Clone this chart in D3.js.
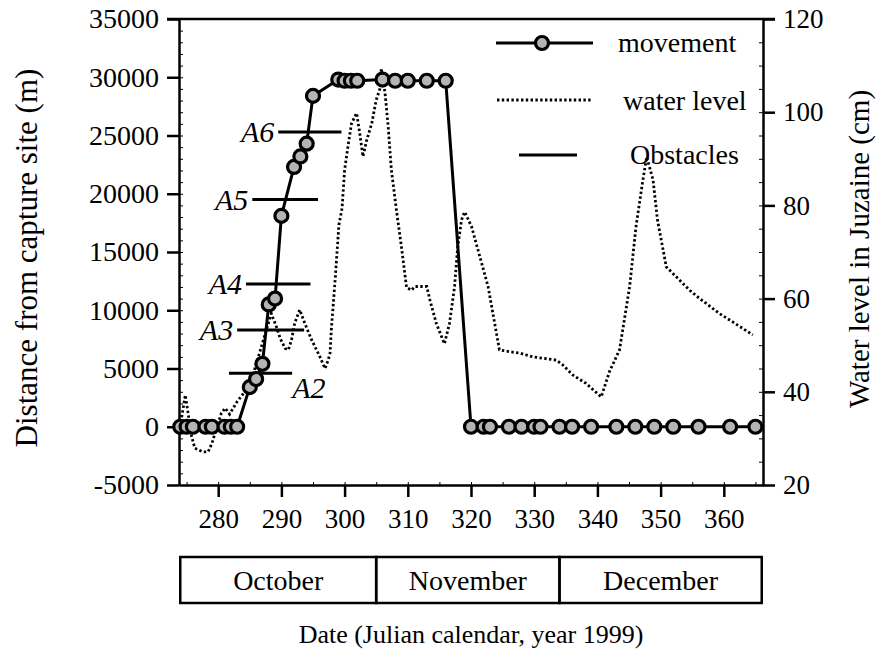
<!DOCTYPE html>
<html>
<head>
<meta charset="utf-8">
<script src="https://cdn.jsdelivr.net/npm/d3@7"></script>
<style>
  body { margin: 0; background: #fff; }
  svg text { font-family: "Liberation Serif", "Times New Roman", serif; fill: #000; }
</style>
</head>
<body>
<div id="chart"></div>
<script>
// movement of the fish (distance from capture site, m) by julian day
let moveDays = [274, 275, 276, 278, 279, 281, 282, 283, 285, 286, 287, 288, 289, 290,
  292, 293, 294, 295, 299, 300, 301, 302, 306, 308, 310, 313, 316,
  320, 322, 323, 326, 328, 330, 331, 334, 336, 339, 343, 346, 349, 352, 356, 361, 365];
let moveDist = [0, 0, 0, 0, 0, 0, 0, 0, 3400, 4100, 5400, 10500, 11000, 18100,
  22300, 23200, 24300, 28400, 29800, 29700, 29700, 29700, 29800, 29700, 29700, 29700, 29700,
  0, 0, 0, 0, 0, 0, 0, 0, 0, 0, 0, 0, 0, 0, 0, 0, 0];

// water level in Juzaine (cm)
let waterDays = [274.1, 274.8, 275.8, 276.3, 277.6, 278.4, 279.0, 280.5, 281.1, 281.8, 283.0, 283.8, 285.1,
  288.4, 289.2, 289.8, 290.6, 291.1, 291.6, 292.1, 292.9, 293.7, 294.8, 296.1, 296.9, 297.4, 297.7,
  297.9, 298.5, 299.1, 299.6, 300.0, 300.6, 301.1, 301.9, 302.4, 302.9, 303.5, 304.3, 305.0, 305.6,
  305.8, 306.4, 306.9, 307.4, 308.2, 309.0, 309.8, 310.6, 311.1, 312.2, 313.0, 313.5, 314.5, 315.8,
  316.6, 317.4, 317.9, 318.5, 319.0, 320.1, 321.4, 322.7, 324.5, 326.1, 327.7, 329.8, 333.5, 334.5,
  336.1, 338.2, 340.6, 341.9, 343.5, 345.1, 346.1, 347.2, 347.8, 348.8, 349.5, 350.9, 354.6, 356.1,
  359.3, 361.4, 364.6];
let waterLevel = [33.5, 39.3, 30.4, 27.9, 27.1, 27.1, 28.9, 35.4, 36.5, 35.2, 37.9, 39.3, 41.8,
  56.8, 54.0, 51.5, 49.3, 49.0, 51.1, 54.7, 57.6, 54.7, 51.1, 47.5, 45.0, 46.8, 48.3,
  53.3, 64.0, 75.8, 79.4, 87.6, 93.3, 97.6, 99.8, 95.5, 90.5, 94.0, 97.6, 102.6, 105.1,
  109.4, 104.1, 96.9, 87.6, 79.0, 71.1, 62.4, 61.8, 62.6, 62.6, 62.6, 59.7, 54.7, 50.3,
  54.7, 62.6, 71.1, 76.9, 78.6, 75.4, 69.0, 62.6, 49.0, 48.6, 48.3, 47.5, 46.8, 45.8,
  43.6, 41.8, 38.9, 44.3, 49.0, 62.6, 75.4, 85.5, 90.4, 85.5, 76.9, 66.8, 61.8, 60.1,
  56.8, 55.0, 52.2];

// obstacles (distance, and the days they span)
let obstacleNames = ["A2", "A3", "A4", "A5", "A6"];
let obstacleDist = [4600, 8300, 12250, 19500, 25300];
let obstacleFrom = [281.7, 283.0, 284.4, 285.4, 289.5];
let obstacleTo = [291.7, 293.6, 294.6, 295.8, 299.5];

let monthNames = ["October", "November", "December"];
let monthStart = [274, 305, 334];
let monthEnd = [305, 334, 366];

let xTicks = [280, 290, 300, 310, 320, 330, 340, 350, 360];
let leftTicks = [-5000, 0, 5000, 10000, 15000, 20000, 25000, 30000, 35000];
let rightTicks = [20, 40, 60, 80, 100, 120];

let svgWidth = 881;
let svgHeight = 655;
let margin = { top: 19, right: 118, bottom: 170, left: 179 };
let chartWidth = svgWidth - margin.left - margin.right;
let chartHeight = svgHeight - margin.top - margin.bottom;

let svg = d3.select("#chart")
  .append("svg")
  .attr("width", svgWidth)
  .attr("height", svgHeight);

let chartGroup = svg.append("g")
  .attr("transform", `translate(${margin.left},${margin.top})`);

let xScale = d3.scaleLinear().domain([273.8, 366.2]).range([0, chartWidth]);
let yLeft = d3.scaleLinear().domain([-5000, 35000]).range([chartHeight, 0]);
let yRight = d3.scaleLinear().domain([20, 120]).range([chartHeight, 0]);

// minor ticks (inside)
chartGroup.append("g")
  .call(d3.axisRight(yLeft).tickValues(d3.range(-5000, 35001, 1000)).tickSize(4).tickFormat(""))
  .call(g => g.select(".domain").remove())
  .selectAll("line").attr("stroke-width", 1);
chartGroup.append("g")
  .attr("transform", `translate(${chartWidth},0)`)
  .call(d3.axisLeft(yRight).tickValues(d3.range(20, 121, 5)).tickSize(4).tickFormat(""))
  .call(g => g.select(".domain").remove())
  .selectAll("line").attr("stroke-width", 1);
chartGroup.append("g")
  .attr("transform", `translate(0,${chartHeight})`)
  .call(d3.axisTop(xScale).tickValues(d3.range(275, 366, 5)).tickSize(3).tickFormat(""))
  .call(g => g.select(".domain").remove())
  .selectAll("line").attr("stroke-width", 1);

// main axes
let xAxis = chartGroup.append("g")
  .attr("transform", `translate(0,${chartHeight})`)
  .call(d3.axisBottom(xScale).tickValues(xTicks).tickSize(12).tickSizeOuter(0).tickPadding(12));
let leftAxis = chartGroup.append("g")
  .call(d3.axisLeft(yLeft).tickValues(leftTicks).tickSize(12).tickSizeOuter(0).tickPadding(8)
    .tickFormat(d => String(d)));
let rightAxis = chartGroup.append("g")
  .attr("transform", `translate(${chartWidth},0)`)
  .call(d3.axisRight(yRight).tickValues(rightTicks).tickSize(12).tickSizeOuter(0).tickPadding(8));

[[xAxis, 27], [leftAxis, 28], [rightAxis, 27]].forEach(([a, size]) => {
  a.attr("font-family", null);
  a.select(".domain").attr("stroke-width", 2.5);
  a.selectAll(".tick line").attr("stroke-width", 2.5);
  a.selectAll("text")
    .attr("font-size", size)
    .attr("fill", "#000");
});

// top border
chartGroup.append("line")
  .attr("x1", -12).attr("x2", chartWidth + 12)
  .attr("y1", 0).attr("y2", 0)
  .attr("stroke", "#000").attr("stroke-width", 2.5);

// water level (dotted)
let waterLine = d3.line()
  .x((d, i) => xScale(waterDays[i]))
  .y(d => yRight(d));
chartGroup.append("path")
  .datum(waterLevel)
  .attr("d", waterLine)
  .attr("fill", "none")
  .attr("stroke", "#000")
  .attr("stroke-width", 2.8)
  .attr("stroke-dasharray", "2.4,2.4");

// obstacles
chartGroup.selectAll(".obstacle")
  .data(obstacleNames)
  .enter()
  .append("line")
  .attr("class", "obstacle")
  .attr("x1", (d, i) => xScale(obstacleFrom[i]))
  .attr("x2", (d, i) => xScale(obstacleTo[i]))
  .attr("y1", (d, i) => yLeft(obstacleDist[i]))
  .attr("y2", (d, i) => yLeft(obstacleDist[i]))
  .attr("stroke", "#000")
  .attr("stroke-width", 3);

chartGroup.selectAll(".obstacle-label")
  .data(obstacleNames)
  .enter()
  .append("text")
  .attr("class", "obstacle-label")
  .attr("x", (d, i) => d == "A2" ? xScale(obstacleTo[i]) : xScale(obstacleFrom[i]) - 4)
  .attr("y", (d, i) => d == "A2" ? yLeft(obstacleDist[i]) + 25 : yLeft(obstacleDist[i]) + 10)
  .attr("text-anchor", d => d == "A2" ? "start" : "end")
  .attr("font-size", 30)
  .attr("font-style", "italic")
  .text(d => d);

// movement
let moveLine = d3.line()
  .x((d, i) => xScale(moveDays[i]))
  .y(d => yLeft(d));
chartGroup.append("path")
  .datum(moveDist)
  .attr("d", moveLine)
  .attr("fill", "none")
  .attr("stroke", "#000")
  .attr("stroke-width", 3);

chartGroup.selectAll(".dot")
  .data(moveDist)
  .enter()
  .append("circle")
  .attr("class", "dot")
  .attr("r", 6.5)
  .attr("cx", (d, i) => xScale(moveDays[i]))
  .attr("cy", d => yLeft(d))
  .attr("fill", "#b4b4b4")
  .attr("stroke", "#000")
  .attr("stroke-width", 3.2);

// legend
let legendSize = 28;
let legend = svg.append("g");
legend.append("line")
  .attr("x1", 496).attr("x2", 593).attr("y1", 43).attr("y2", 43)
  .attr("stroke", "#000").attr("stroke-width", 3);
legend.append("circle")
  .attr("cx", 542).attr("cy", 43).attr("r", 6.5)
  .attr("fill", "#b4b4b4").attr("stroke", "#000").attr("stroke-width", 3.2);
legend.append("text").attr("x", 618).attr("y", 52).attr("font-size", legendSize).text("movement");

legend.append("line")
  .attr("x1", 497).attr("x2", 592).attr("y1", 100).attr("y2", 100)
  .attr("stroke", "#000").attr("stroke-width", 2.8).attr("stroke-dasharray", "2.4,2.4");
legend.append("text").attr("x", 623).attr("y", 110).attr("font-size", legendSize).text("water level");

legend.append("line")
  .attr("x1", 519).attr("x2", 577).attr("y1", 155).attr("y2", 155)
  .attr("stroke", "#000").attr("stroke-width", 3);
legend.append("text").attr("x", 630).attr("y", 164).attr("font-size", legendSize).text("Obstacles");

// axis titles
svg.append("text")
  .attr("transform", "rotate(-90)")
  .attr("x", -258)
  .attr("y", 37)
  .attr("text-anchor", "middle")
  .attr("font-size", 31)
  .text("Distance from capture site (m)");

svg.append("text")
  .attr("transform", "rotate(-90)")
  .attr("x", -249)
  .attr("y", 869)
  .attr("text-anchor", "middle")
  .attr("font-size", 29)
  .text("Water level in Juzaine (cm)");

// month box under the axis
let boxTop = 557;
let boxHeight = 46;
let monthGroup = svg.append("g").attr("transform", `translate(${margin.left},0)`);
monthGroup.selectAll("rect")
  .data(monthNames)
  .enter()
  .append("rect")
  .attr("x", (d, i) => Math.max(0, xScale(monthStart[i])))
  .attr("width", (d, i) => Math.min(chartWidth, xScale(monthEnd[i])) - Math.max(0, xScale(monthStart[i])))
  .attr("y", boxTop)
  .attr("height", boxHeight)
  .attr("fill", "none")
  .attr("stroke", "#000")
  .attr("stroke-width", 2.5);
monthGroup.selectAll(".month")
  .data(monthNames)
  .enter()
  .append("text")
  .attr("class", "month")
  .attr("x", (d, i) => (Math.max(0, xScale(monthStart[i])) + Math.min(chartWidth, xScale(monthEnd[i]))) / 2)
  .attr("y", boxTop + 33)
  .attr("text-anchor", "middle")
  .attr("font-size", 28)
  .text(d => d);

svg.append("text")
  .attr("x", margin.left + chartWidth / 2)
  .attr("y", 643)
  .attr("text-anchor", "middle")
  .attr("font-size", 26)
  .text("Date (Julian calendar, year 1999)");
</script>
</body>
</html>
